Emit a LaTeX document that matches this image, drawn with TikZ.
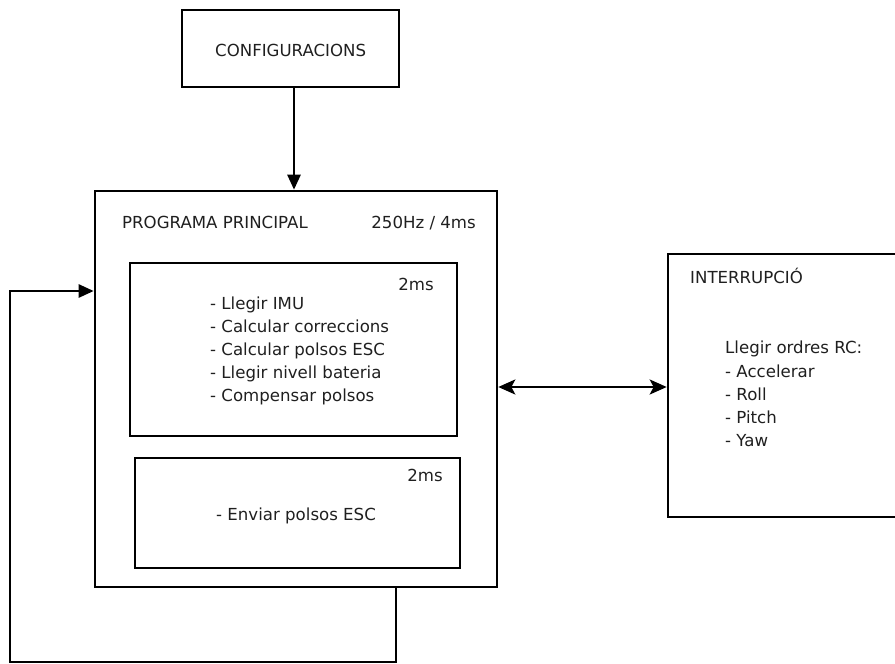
\documentclass[tikz,border=0pt]{standalone}
\usepackage{fontspec}
\setmainfont{DejaVu Sans}
\usetikzlibrary{arrows.meta}
\begin{document}
\begin{tikzpicture}[x=1pt,y=-1pt,
  box/.style={draw=black,line width=2.6pt,rectangle,inner sep=0pt},
  txt/.style={inner sep=0pt,anchor=base west,font=\fontsize{16.6}{19}\selectfont,text=black!88},
  txtr/.style={txt,anchor=base east},
  arr/.style={line width=2.6pt,-{Triangle[length=15pt,width=13pt]}},
  arrtwo/.style={line width=2.6pt,{Stealth[length=17pt,width=15pt,inset=4pt]}-{Stealth[length=17pt,width=15pt,inset=4pt]}}]
\useasboundingbox (0,0) rectangle (895,664);
\clip (0,0) rectangle (895,664);
% boxes
\node[box,minimum width=217pt,minimum height=77pt] (conf) at (290.5,48.5) {};
\node[box,minimum width=402pt,minimum height=396pt] (main) at (296,389) {};
\node[box,minimum width=327pt,minimum height=173pt] (inA) at (293.5,349.5) {};
\node[box,minimum width=325pt,minimum height=110pt] (inB) at (297.5,513) {};
\node[box,minimum width=237pt,minimum height=263pt] (intr) at (786.5,385.5) {};
% texts
\node[txt] (tconf) at (215,56) {CONFIGURACIONS};
\node[txt] (tmain) at (122,228) {PROGRAMA PRINCIPAL};
\node[txtr] (tfreq) at (476,228) {250Hz / 4ms};
\node[txtr] (tA) at (434,290) {2ms};
\node[txt] (lA1) at (210,309) {- Llegir IMU};
\node[txt] (lA2) at (210,332) {- Calcular correccions};
\node[txt] (lA3) at (210,355) {- Calcular polsos ESC};
\node[txt] (lA4) at (210,378) {- Llegir nivell bateria};
\node[txt] (lA5) at (210,401) {- Compensar polsos};
\node[txtr] (tB) at (443,481) {2ms};
\node[txt] (lB1) at (216,520) {- Enviar polsos ESC};
\node[txt] (tint) at (690,283) {INTERRUPCIÓ};
\node[txt] (lI1) at (725,353) {Llegir ordres RC:};
\node[txt] (lI2) at (725,377) {- Accelerar};
\node[txt] (lI3) at (725,400) {- Roll};
\node[txt] (lI4) at (725,423) {- Pitch};
\node[txt] (lI5) at (725,446) {- Yaw};
% connectors
\draw[arr] ([xshift=3.5pt]conf.south) -- ([xshift=3.5pt]conf.south |- main.north);
\coordinate (lb) at (396,662);
\coordinate (ll) at (10,662);
\coordinate (lt) at (10,291);
\draw[arr] (main.south -| lb) -- (lb) -- (ll) -- (lt) -- (lt -| main.west);
\coordinate (dy) at (0,387);
\draw[arrtwo] (main.east |- dy) -- (intr.west |- dy);
\end{tikzpicture}
\end{document}
